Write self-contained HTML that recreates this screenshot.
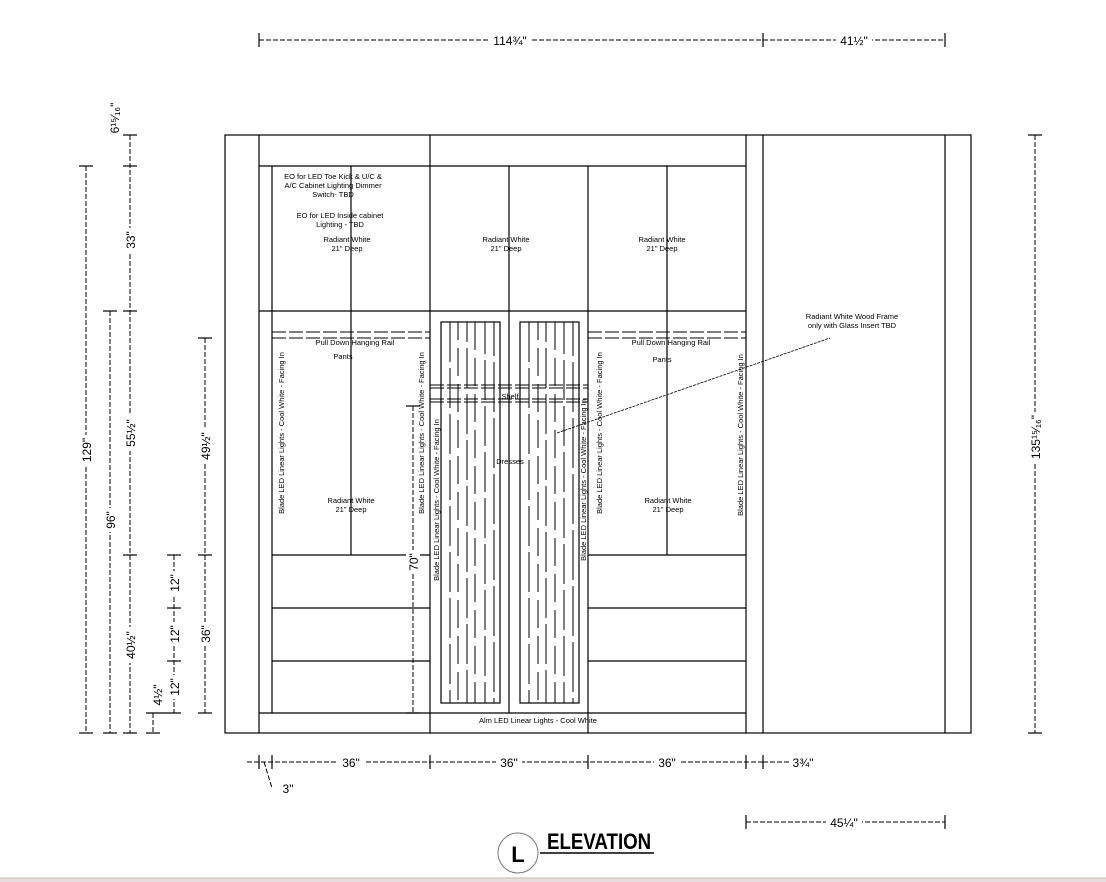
<!DOCTYPE html>
<html><head><meta charset="utf-8"><style>
html,body{margin:0;padding:0;background:#fff;}
svg{display:block;font-family:"Liberation Sans",Arial,sans-serif;}
.d{stroke:#000;stroke-width:1;stroke-dasharray:5,2;fill:none}
.s{stroke:#000;stroke-width:1.2;fill:none}
.t{font-size:7.5px}
.dm{font-size:12px}
</style></head><body>
<svg width="1106" height="882" viewBox="0 0 1106 882" xmlns="http://www.w3.org/2000/svg">
<rect x="0" y="878" width="1106" height="4" fill="#e8dcdc"/>
<line x1="0" y1="878" x2="1106" y2="878" stroke="#c9b9b9"/>
<g class="s">
<rect x="225" y="135" width="746" height="598"/>
<line x1="259" y1="135" x2="259" y2="733"/>
<line x1="430" y1="135" x2="430" y2="733"/>
<line x1="588" y1="166" x2="588" y2="733"/>
<line x1="746" y1="135" x2="746" y2="733"/>
<line x1="763" y1="135" x2="763" y2="733"/>
<line x1="945" y1="135" x2="945" y2="733"/>
<line x1="259" y1="166" x2="746" y2="166"/>
<line x1="259" y1="311" x2="746" y2="311"/>
<line x1="259" y1="713" x2="746" y2="713"/>
<line x1="272" y1="166" x2="272" y2="713"/>
<line x1="351" y1="166" x2="351" y2="555"/>
<line x1="667" y1="166" x2="667" y2="555"/>
<line x1="509" y1="166" x2="509" y2="713"/>
<line x1="272" y1="555" x2="430" y2="555"/>
<line x1="272" y1="608" x2="430" y2="608"/>
<line x1="272" y1="661" x2="430" y2="661"/>
<line x1="588" y1="555" x2="746" y2="555"/>
<line x1="588" y1="608" x2="746" y2="608"/>
<line x1="588" y1="661" x2="746" y2="661"/>
<rect x="441" y="322" width="59" height="381"/>
<rect x="520" y="322" width="59" height="381"/>
</g>
<g stroke="#000" stroke-width="1" stroke-dasharray="14,3">
<line x1="272" y1="332" x2="430" y2="332"/><line x1="272" y1="338" x2="430" y2="338"/>
<line x1="588" y1="332" x2="746" y2="332"/><line x1="588" y1="338" x2="746" y2="338"/>
<line x1="430" y1="385" x2="588" y2="385"/><line x1="430" y1="388" x2="588" y2="388"/>
<line x1="430" y1="399" x2="588" y2="399"/><line x1="430" y1="402" x2="588" y2="402"/>
</g>
<g stroke="#000" stroke-width="1">
<line x1="450" y1="322" x2="450" y2="703" stroke-dasharray="40,6"/>
<line x1="458" y1="322" x2="458" y2="703" stroke-dasharray="28,8" stroke-dashoffset="10"/>
<line x1="467" y1="322" x2="467" y2="703" stroke-dasharray="40,6" stroke-dashoffset="20"/>
<line x1="475" y1="322" x2="475" y2="703" stroke-dasharray="28,8"/>
<line x1="485" y1="322" x2="485" y2="703" stroke-dasharray="40,6" stroke-dashoffset="8"/>
<line x1="494" y1="322" x2="494" y2="703" stroke-dasharray="50,6" stroke-dashoffset="16"/>
<line x1="529" y1="322" x2="529" y2="703" stroke-dasharray="40,6"/>
<line x1="538" y1="322" x2="538" y2="703" stroke-dasharray="28,8" stroke-dashoffset="10"/>
<line x1="546" y1="322" x2="546" y2="703" stroke-dasharray="40,6" stroke-dashoffset="20"/>
<line x1="555" y1="322" x2="555" y2="703" stroke-dasharray="28,8"/>
<line x1="564" y1="322" x2="564" y2="703" stroke-dasharray="40,6" stroke-dashoffset="8"/>
<line x1="573" y1="322" x2="573" y2="703" stroke-dasharray="50,6" stroke-dashoffset="16"/>
</g>
<line x1="557" y1="433" x2="830" y2="338" stroke="#000" stroke-width="0.8" stroke-dasharray="3,1"/>
<g class="t" text-anchor="middle">
<text x="333" y="179">EO for LED Toe Kick &amp; U/C &amp;</text>
<text x="333" y="188">A/C Cabinet Lighting Dimmer</text>
<text x="333" y="197">Switch- TBD</text>
<text x="340" y="218">EO for LED Inside cabinet</text>
<text x="340" y="227">Lighting - TBD</text>
<text x="347" y="242">Radiant White</text><text x="347" y="251">21" Deep</text>
<text x="506" y="242">Radiant White</text><text x="506" y="251">21" Deep</text>
<text x="662" y="242">Radiant White</text><text x="662" y="251">21" Deep</text>
<text x="355" y="345">Pull Down Hanging Rail</text>
<text x="343" y="359">Pants</text>
<text x="671" y="345">Pull Down Hanging Rail</text>
<text x="662" y="362">Pants</text>
<text x="510" y="399">Shelf</text>
<text x="510" y="464">Dresses</text>
<text x="351" y="503">Radiant White</text><text x="351" y="512">21" Deep</text>
<text x="668" y="503">Radiant White</text><text x="668" y="512">21" Deep</text>
<text x="538" y="723">Alm LED Linear Lights - Cool White</text>
<text x="852" y="319">Radiant White Wood Frame</text>
<text x="852" y="328">only with Glass Insert TBD</text>
<text transform="translate(284,433) rotate(-90)">Blade LED Linear Lights - Cool White - Facing In</text>
<text transform="translate(424,433) rotate(-90)">Blade LED Linear Lights - Cool White - Facing In</text>
<text transform="translate(439,500) rotate(-90)">Blade LED Linear Lights - Cool White - Facing In</text>
<text transform="translate(586,480) rotate(-90)">Blade LED Linear Lights - Cool White - Facing In</text>
<text transform="translate(602,433) rotate(-90)">Blade LED Linear Lights - Cool White - Facing In</text>
<text transform="translate(743,435) rotate(-90)">Blade LED Linear Lights - Cool White - Facing In</text>
</g>
<g class="d">
<line x1="259" y1="40" x2="945" y2="40"/>
<line x1="247" y1="762" x2="763" y2="762"/>
<line x1="763" y1="762" x2="790" y2="762"/>
<line x1="746" y1="822" x2="945" y2="822"/>
<line x1="86" y1="166" x2="86" y2="733"/>
<line x1="110" y1="311" x2="110" y2="733"/>
<line x1="130" y1="135" x2="130" y2="733"/>
<line x1="174" y1="555" x2="174" y2="713"/>
<line x1="153" y1="713" x2="153" y2="733"/>
<line x1="205" y1="338" x2="205" y2="713"/>
<line x1="413" y1="406" x2="413" y2="713"/>
<line x1="1035" y1="135" x2="1035" y2="733"/>
<line x1="264" y1="762" x2="272" y2="788"/>
</g>
<g stroke="#000" stroke-width="1.2">
<line x1="259" y1="33" x2="259" y2="47"/><line x1="763" y1="33" x2="763" y2="47"/><line x1="945" y1="33" x2="945" y2="47"/>
<line x1="259" y1="755" x2="259" y2="769"/><line x1="272" y1="755" x2="272" y2="769"/><line x1="430" y1="755" x2="430" y2="769"/><line x1="588" y1="755" x2="588" y2="769"/><line x1="746" y1="755" x2="746" y2="769"/><line x1="763" y1="755" x2="763" y2="769"/>
<line x1="746" y1="815" x2="746" y2="829"/><line x1="945" y1="815" x2="945" y2="829"/>
<line x1="79" y1="166" x2="93" y2="166"/><line x1="79" y1="733" x2="93" y2="733"/>
<line x1="103" y1="311" x2="117" y2="311"/><line x1="103" y1="733" x2="117" y2="733"/>
<line x1="123" y1="135" x2="137" y2="135"/><line x1="123" y1="166" x2="137" y2="166"/><line x1="123" y1="311" x2="137" y2="311"/><line x1="123" y1="555" x2="137" y2="555"/><line x1="123" y1="733" x2="137" y2="733"/>
<line x1="167" y1="555" x2="181" y2="555"/><line x1="167" y1="608" x2="181" y2="608"/><line x1="167" y1="661" x2="181" y2="661"/><line x1="146" y1="713" x2="181" y2="713"/><line x1="146" y1="733" x2="160" y2="733"/>
<line x1="198" y1="338" x2="212" y2="338"/><line x1="198" y1="555" x2="212" y2="555"/><line x1="198" y1="713" x2="212" y2="713"/>
<line x1="406" y1="406" x2="420" y2="406"/><line x1="406" y1="713" x2="420" y2="713"/>
<line x1="1028" y1="135" x2="1042" y2="135"/><line x1="1028" y1="733" x2="1042" y2="733"/>
</g>
<g class="dm" text-anchor="middle">
<rect x="488" y="32" width="44" height="14" fill="#fff"/><text x="510" y="45">114¾"</text>
<rect x="836" y="32" width="36" height="14" fill="#fff"/><text x="854" y="45">41½"</text>
<rect x="338" y="755" width="26" height="14" fill="#fff"/><text x="351" y="767">36"</text>
<rect x="496" y="755" width="26" height="14" fill="#fff"/><text x="509" y="767">36"</text>
<rect x="654" y="755" width="26" height="14" fill="#fff"/><text x="667" y="767">36"</text>
<text x="803" y="767">3¾"</text>
<text x="288" y="793">3"</text>
<rect x="826" y="815" width="36" height="14" fill="#fff"/><text x="844" y="827">45¼"</text>
<rect x="79" y="435" width="14" height="30" fill="#fff"/><text transform="translate(91,450) rotate(-90)">129"</text>
<rect x="103" y="508" width="14" height="24" fill="#fff"/><text transform="translate(115,520) rotate(-90)">96"</text>
<text transform="translate(119,118) rotate(-90)">6¹⁵⁄₁₆"</text>
<rect x="123" y="228" width="14" height="24" fill="#fff"/><text transform="translate(135,240) rotate(-90)">33"</text>
<rect x="123" y="415" width="14" height="36" fill="#fff"/><text transform="translate(135,433) rotate(-90)">55½"</text>
<rect x="123" y="627" width="14" height="36" fill="#fff"/><text transform="translate(135,645) rotate(-90)">40½"</text>
<rect x="167" y="571" width="14" height="24" fill="#fff"/><text transform="translate(179,583) rotate(-90)">12"</text>
<rect x="167" y="622" width="14" height="24" fill="#fff"/><text transform="translate(179,634) rotate(-90)">12"</text>
<rect x="167" y="675" width="14" height="24" fill="#fff"/><text transform="translate(179,687) rotate(-90)">12"</text>
<text transform="translate(162,695) rotate(-90)">4½"</text>
<rect x="198" y="428" width="14" height="36" fill="#fff"/><text transform="translate(210,446) rotate(-90)">49½"</text>
<rect x="198" y="622" width="14" height="24" fill="#fff"/><text transform="translate(210,634) rotate(-90)">36"</text>
<rect x="406" y="550" width="14" height="24" fill="#fff"/><text transform="translate(418,562) rotate(-90)">70"</text>
<rect x="1028" y="412" width="14" height="50" fill="#fff"/><text transform="translate(1040,437) rotate(-90)">135¹⁵⁄₁₆"</text>
</g>
<circle cx="518" cy="853" r="20" fill="#fff" stroke="#777" stroke-width="1"/>
<text x="518" y="862" text-anchor="middle" font-size="22" font-weight="bold">L</text>
<text x="547" y="849" font-size="22" font-weight="bold" transform="translate(547,0) scale(0.85,1) translate(-547,0)">ELEVATION</text>
<line x1="540" y1="853" x2="654" y2="853" stroke="#000" stroke-width="1.5"/>
</svg>
</body></html>
